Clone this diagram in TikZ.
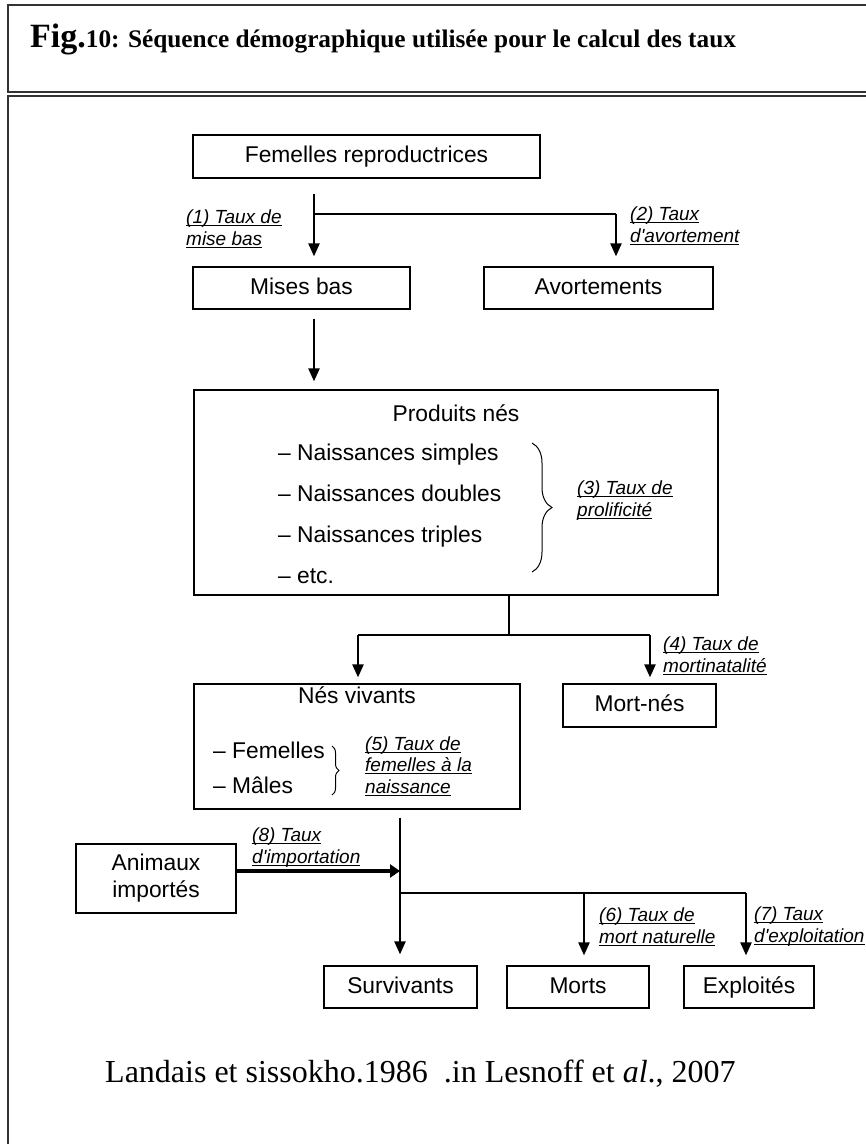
\documentclass[tikz,border=0pt]{standalone}
\usepackage{fontspec}
\setmainfont{Liberation Serif}
\setsansfont{Liberation Sans}
\usetikzlibrary{arrows.meta, decorations.pathreplacing}

% souligne a hauteur fixe
\newcommand{\ulbl}[1]{\setbox0\hbox{#1}\rlap{\rule[-2.6pt]{\wd0}{0.9pt}}\box0}
% apostrophe droite
\newcommand{\apos}{{\addfontfeatures{Ligatures=TeXOff}'}}

\begin{document}
\begin{tikzpicture}[x=1pt, y=-1pt,
  box/.style={draw, line width=1.2pt, inner sep=0pt, minimum height=43pt,
    font=\sffamily\fontsize{22.8}{27}\selectfont, align=center},
  boxone/.style={box, text height=16.5pt, text depth=4.5pt},
  txt/.style={inner sep=0pt, anchor=base west, font=\sffamily\fontsize{22.8}{27}\selectfont},
  rate/.style={inner sep=0pt, anchor=base west, align=left,
    font=\sffamily\itshape\fontsize{19}{21.5}\selectfont},
  arr/.style={line width=2.2pt, -{Triangle[width=11pt,length=13pt]}},
  imp/.style={line width=4pt, -{Triangle[width=13pt,length=10pt]}},
  link/.style={line width=1.3pt},
  brc/.style={line width=1pt, decorate, decoration={brace, amplitude=#1}}]
  \useasboundingbox (0,0) rectangle (866,1144);
  \clip (0,0) rectangle (866,1144);
  % cadre et titre
  \draw[line width=1.6pt, black!80] (900,5) -- (8,5) -- (8,92) -- (900,92);
  \draw[line width=1.6pt, black!80] (900,96) -- (8,96) -- (8,1200);
  \node[anchor=base west, inner sep=0pt, font=\bfseries] (titre) at (30,47)
    {{\fontsize{34}{40}\selectfont Fig.}{\fontsize{25.3}{30}\selectfont 10: Séquence démographique utilisée pour le calcul des taux}};

  % boites
  \node[boxone, minimum width=347pt] (femelles) at (366.5,156.5) {Femelles reproductrices};
  \node[boxone, minimum width=217pt, minimum height=42pt] (misesbas) at (301.5,288) {Mises bas};
  \node[boxone, minimum width=229pt, minimum height=42pt] (avort) at (598.5,288) {Avortements};
  \node[box, minimum width=524pt, minimum height=205pt] (produits) at (456,492.5) {};
  \node[box, minimum width=326pt, minimum height=125pt] (nesviv) at (357,746.5) {};
  \node[boxone, minimum width=153pt] (mortnes) at (639.5,705.5) {Mort-nés};
  \node[box, minimum width=160pt, minimum height=69pt] (animaux) at (156,878.5) {Animaux\\importés};
  \node[boxone, minimum width=153pt, minimum height=42pt] (surv) at (400.5,987) {Survivants};
  \node[boxone, minimum width=142pt, minimum height=42pt] (morts) at (578,987) {Morts};
  \node[boxone, minimum width=130pt, minimum height=42pt] (exploit) at (749,987) {Exploités};

  % contenu des boites
  \node[txt, anchor=base] (prodtitre) at (456,421) {Produits nés};
  \node[txt] (simples) at (278,460) {– Naissances simples};
  \node[txt] (doubles) at (278,501) {– Naissances doubles};
  \node[txt] (triples) at (278,542) {– Naissances triples};
  \node[txt] (etc) at (278,583) {– etc.};
  \node[txt, anchor=base] (vivtitre) at (357,703) {Nés vivants};
  \node[txt] (femelles2) at (213,758) {– Femelles};
  \node[txt] (males) at (213,793) {– Mâles};
  \draw[brc=20pt] (532,443) -- (532,572);
  \draw[brc=7pt] (332,746) -- (332,795);

  % taux (base = derniere ligne)
  \node[rate] (r1) at (186,245) {\ulbl{(1) Taux de}\\\ulbl{mise bas}};
  \node[rate] (r2) at (630,242) {\ulbl{(2) Taux}\\\ulbl{d\apos avortement}};
  \node[rate] (r3) at (577,516) {\ulbl{(3) Taux de}\\\ulbl{prolificité}};
  \node[rate] (r4) at (663,672) {\ulbl{(4) Taux de}\\\ulbl{mortinatalité}};
  \node[rate] (r5) at (365,793) {\ulbl{(5) Taux de}\\\ulbl{femelles à la}\\\ulbl{naissance}};
  \node[rate] (r8) at (252,863) {\ulbl{(8) Taux}\\\ulbl{d\apos importation}};
  \node[rate] (r6) at (599,943) {\ulbl{(6) Taux de}\\\ulbl{mort naturelle}};
  \node[rate] (r7) at (754,942) {\ulbl{(7) Taux}\\\ulbl{d\apos exploitation}};

  % liaisons
  \coordinate (x1) at (314,0);
  \coordinate (x2) at (400,0);
  \coordinate (b1) at (314,214);
  \coordinate (b2) at (616,214);
  \coordinate (b3) at (509,635);
  \coordinate (b4) at (358,635);
  \coordinate (b5) at (650,635);
  \coordinate (c8) at (400,871);
  \coordinate (b6) at (400,893);
  \coordinate (b7) at (584,893);
  \coordinate (b8) at (746,893);
  \draw[arr, shorten <=15pt, shorten >=10pt] (femelles.south -| x1) -- (misesbas.north -| x1);
  \draw[link] (b1) -- (b2);
  \draw[arr, shorten >=10pt] (b2) -- (avort.north -| b2);
  \draw[arr, shorten <=9pt, shorten >=8pt] (misesbas.south -| x1) -- (produits.north -| x1);
  \draw[link] (produits.south -| b3) -- (b3);
  \draw[link] (b4) -- (b5);
  \draw[arr, shorten >=6pt] (b4) -- (nesviv.north -| b4);
  \draw[arr, shorten >=6pt] (b5) -- (mortnes.north -| b5);
  \draw[arr, shorten <=8pt, shorten >=11pt] (nesviv.south -| x2) -- (surv.north -| x2);
  \draw[imp] (animaux.east |- c8) -- (c8);
  \draw[link] (b6) -- (b8);
  \draw[arr, shorten >=10pt] (b7) -- (morts.north -| b7);
  \draw[arr, shorten >=10pt] (b8) -- (exploit.north -| b8);

  % source
  \node[anchor=base west, inner sep=0pt, font=\fontsize{32}{38}\selectfont] (source) at (105,1082)
    {Landais et sissokho.1986\ \ .in Lesnoff et \textit{al}., 2007};
\end{tikzpicture}
\end{document}
